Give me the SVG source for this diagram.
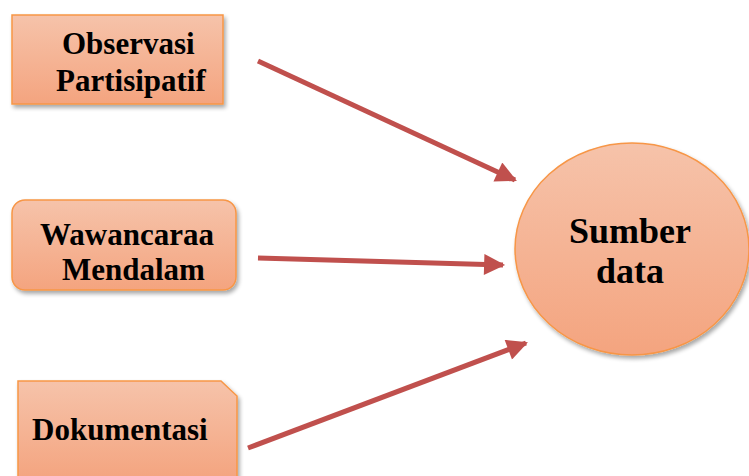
<svg xmlns="http://www.w3.org/2000/svg" width="749" height="476" viewBox="0 0 749 476">
<defs>
<linearGradient id="g" x1="0" y1="0" x2="0" y2="1">
<stop offset="0" stop-color="#F6C3AA"/>
<stop offset="1" stop-color="#F4A47F"/>
</linearGradient>
<filter id="sh" x="-10%" y="-10%" width="130%" height="130%">
<feGaussianBlur in="SourceAlpha" stdDeviation="2"/>
<feOffset dx="2" dy="3" result="b"/>
<feComponentTransfer><feFuncA type="linear" slope="0.35"/></feComponentTransfer>
<feMerge><feMergeNode/><feMergeNode in="SourceGraphic"/></feMerge>
</filter>
<marker id="ah" viewBox="0 0 10 10" refX="9" refY="5" markerWidth="4.4" markerHeight="4.2" orient="auto" markerUnits="strokeWidth">
<path d="M0,0 L10,5 L0,10 Z" fill="#C0504D"/>
</marker>
<style>
.n{fill:url(#g);stroke:#F79646;stroke-width:1.5;filter:url(#sh)}
.t{font-weight:bold;font-size:31px;fill:#000}
.c{stroke:#C0504D;stroke-width:5;fill:none;marker-end:url(#ah)}
</style>
</defs>
<rect width="749" height="476" fill="#fff"/>
<g id="observasi">
<rect class="n" x="12" y="15" width="211" height="89"/>
<text class="t" font-family="Liberation Serif, Times New Roman, serif" x="62" y="54">Observasi</text>
<text class="t" font-family="Liberation Serif, Times New Roman, serif" x="56" y="91">Partisipatif</text>
</g>
<g id="wawancara">
<rect class="n" x="12" y="200" width="224" height="90" rx="13"/>
<text class="t" font-family="Liberation Serif, Times New Roman, serif" x="40" y="245">Wawancaraa</text>
<text class="t" font-family="Liberation Serif, Times New Roman, serif" x="62" y="280">Mendalam</text>
</g>
<g id="dokumentasi">
<path class="n" d="M18,381 H221 L237,396 V480 H18 Z"/>
<text class="t" font-family="Liberation Serif, Times New Roman, serif" x="32" y="440">Dokumentasi</text>
</g>
<g id="sumber">
<ellipse class="n" cx="632" cy="249" rx="117" ry="106"/>
<text class="t" font-family="Liberation Serif, Times New Roman, serif" x="630" y="243" text-anchor="middle" font-size="36" style="font-size:36px">Sumber</text>
<text class="t" font-family="Liberation Serif, Times New Roman, serif" x="630" y="283" text-anchor="middle" style="font-size:36px">data</text>
</g>
<g id="connectors">
<line class="c" x1="258" y1="61" x2="515" y2="180"/>
<line class="c" x1="258" y1="258" x2="503" y2="265"/>
<line class="c" x1="248" y1="448" x2="526" y2="343"/>
</g>
</svg>
